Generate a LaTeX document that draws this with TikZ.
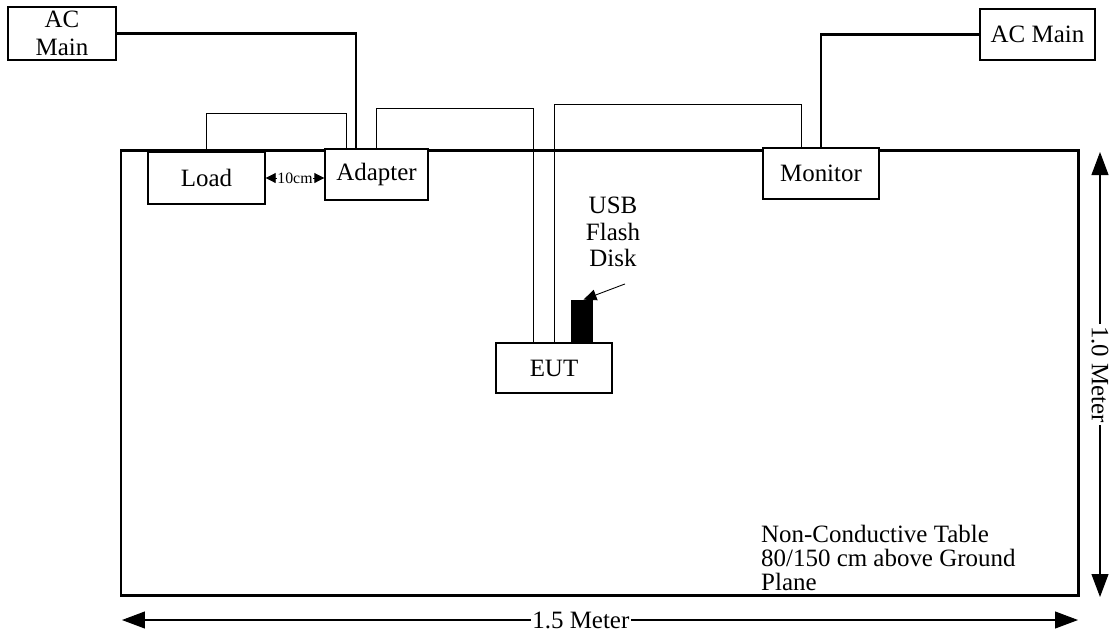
\documentclass[tikz,border=0pt]{standalone}
\usepackage{fontspec}
\setmainfont{Liberation Serif}
\usetikzlibrary{arrows.meta, positioning, calc}
\tikzset{
	unit/.style  ={rectangle, draw=black, line width=0.8pt, fill=white, align=center, inner sep=1pt},
	table/.style ={draw=black, line width=1.7pt},
	power/.style ={line width=1.7pt},
	wire/.style  ={line width=0.5pt},
	dim/.style   ={{Triangle[length=0.46cm, width=0.34cm]}-{Triangle[length=0.46cm, width=0.34cm]}, line width=0.6pt},
	gap/.style   ={{Triangle[length=0.2cm, width=0.2cm]}-{Triangle[length=0.2cm, width=0.2cm]}, line width=0.5pt},
}
\begin{document}
\begin{tikzpicture}[x=0.02cm, y=-0.02cm, every node/.style={font=\fontsize{14.2}{14.2}\selectfont}]
	\useasboundingbox (0,0) rectangle (1110,637);
	% table outline
	\coordinate (tnw) at (121,150);
	\coordinate (tse) at (1078,595);
	\draw[table] (tnw) rectangle (tse);
	% units on the table
	\node[unit, minimum width=2.34cm, minimum height=1.04cm] (load) at (206.5,178) {Load};
	\node[unit, minimum width=2.06cm, minimum height=1.02cm] (adapter) at (376.5,174.5) {Adapter};
	\node[unit, minimum width=2.32cm, minimum height=1.02cm] (monitor) at (821,173.5) {Monitor};
	\node[unit, minimum width=2.32cm, minimum height=1.0cm] (eut) at (554,368) {EUT};
	\node[rectangle, fill=black, draw=black, minimum width=0.42cm, minimum height=0.84cm, inner sep=0pt, anchor=south] (usb) at ([xshift=0.55cm]eut.north) {};
	% mains supplies
	\node[unit, minimum width=2.16cm, minimum height=1.06cm, inner sep=0pt, font=\fontsize{14.2}{16}\selectfont] (acl) at (62,33.5) {AC\\Main};
	\node[unit, minimum width=2.3cm, minimum height=1.02cm] (acr) at (1037.5,34.5) {AC Main};
	\draw[power] (acl.east) -| ([xshift=-0.41cm]adapter.north);
	\draw[power] (acr.west) -| (monitor.north);
	% signal cables
	\draw[wire] (load.north) -- ++(0,-38) -| ([xshift=-0.61cm]adapter.north);
	\draw[wire] (adapter.north) -- ++(0,-40) -| ([xshift=-0.42cm]eut.north);
	\draw[wire] (eut.north) -- ++(0,-238) -| ([xshift=-0.4cm]monitor.north);
	\draw[gap] (load.east) -- (adapter.west |- load.east) node[midway, fill=white, inner sep=0pt, font=\fontsize{9}{10}\selectfont] {10cm};
	% labels
	\node[align=center, font=\fontsize{14.2}{15}\selectfont] (usbtext) at (613,232) {USB\\Flash\\Disk};
	\draw[-{Triangle[length=0.26cm, width=0.22cm]}, line width=0.5pt] ([xshift=0.24cm, yshift=-0.22cm]usbtext.south) -- ([xshift=0.04cm]usb.north);
	\node[align=left, anchor=west, font=\fontsize{14.2}{13.5}\selectfont] (note) at (755,558) {Non-Conductive Table\\80/150 cm above Ground\\Plane};
	% dimensions
	\coordinate (hl) at (122,620);
	\coordinate (hr) at (1078,620);
	\coordinate (vt) at (1100,152);
	\coordinate (vb) at (1100,597);
	\draw[dim] (hl) -- (hr) node[pos=0.48, fill=white, inner sep=1pt] {1.5 Meter};
	\draw[dim] (vt) -- (vb) node[midway, fill=white, inner sep=1pt, rotate=-90] {1.0 Meter};
\end{tikzpicture}
\end{document}
